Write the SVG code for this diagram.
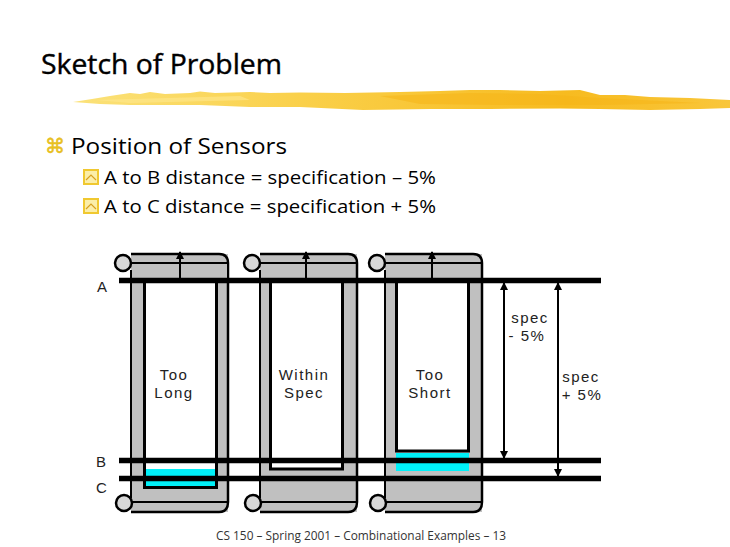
<svg xmlns="http://www.w3.org/2000/svg" width="730" height="547" viewBox="0 0 730 547">
<style>
text{font-family:"Open Sans","Liberation Sans",sans-serif;fill:#000}
.t{font-family:"Liberation Sans",Arial,sans-serif;font-size:15px;fill:#222;letter-spacing:1.5px}
.m{text-anchor:middle}
.bar{fill:#c0c0c0;stroke:none}
.thin{fill:none;stroke:#000;stroke-width:2}
.rl{fill:#d8d8d8;stroke:#000;stroke-width:2.5}
.rail{stroke:#000;stroke-width:5.5;fill:none}
.dim{stroke:#000;stroke-width:2;fill:none}
.cy{fill:#00f0f8}
.bx{fill:#fbeea8;stroke:#f0c830;stroke-width:2}
.ch{fill:none;stroke:#d8a020;stroke-width:1.2}
</style>
<defs>
<linearGradient id="brush" x1="0" x2="1" y1="0" y2="0">
<stop offset="0" stop-color="#fbe27a"/><stop offset=".35" stop-color="#fad04a"/><stop offset=".75" stop-color="#f7bb20"/><stop offset="1" stop-color="#f9c63a"/>
</linearGradient>
<marker id="ah" markerWidth="8" markerHeight="8" refX="7" refY="4" orient="auto-start-reverse" markerUnits="userSpaceOnUse" viewBox="0 0 8 8"><path d="M0 0L8 4L0 8Z" fill="#000"/></marker>
<g id="frame">
<path class="bar" d="M-49 -26H48V232H-49Z"/>
<path d="M-49 -26 H39 Q48 -26 48 -17 V222 Q48 232 39 232 H-49" fill="none" stroke="#000" stroke-width="2.500"/>
<path class="thin" d="M-49 -17H48M-49 222H48M-49 -10V218"/>
<circle class="rl" cx="-57" cy="-17" r="8"/>
<circle class="rl" cx="-56" cy="223" r="8"/>
</g>
</defs>
<rect width="730" height="547" fill="#fff"/>
<g id="stroke">
<path fill="url(#brush)" d="M73 102L92 99L110 96L130 93L140 94L150 92L165 94L190 93L200 91.500L215 93L250 92L270 93L300 92.500L345 93L400 92L440 91L470 90L500 90L540 91L580 90L600 95L625 95L650 97L690 98L730 100L730 108L700 109L650 110L600 109L560 108.500L490 109L430 109L363 110L300 107L250 107L200 105L130 105L100 104Z"/>
<path fill="#f5b418" opacity=".55" d="M380 96L470 93L540 94L600 98L700 103L600 105L500 105L420 104Z"/>
<path fill="#ffe88e" opacity=".6" d="M95 100L240 96L250 100L130 103Z"/>
</g>
<text x="41" y="74" font-size="27" textLength="241" lengthAdjust="spacingAndGlyphs" stroke="#000" stroke-width=".4">Sketch of Problem</text>
<text x="45" y="153" font-size="20" stroke="#e8c020" stroke-width=".5" style="font-family:'DejaVu Sans',sans-serif;fill:#e8c020">⌘</text>
<text x="71" y="154" font-size="22" textLength="216" lengthAdjust="spacingAndGlyphs">Position of Sensors</text>
<g id="b1"><rect class="bx" x="84" y="170" width="14" height="14"/><path class="ch" d="M86 180L91 175L96 180"/></g>
<text x="104" y="184" font-size="18.500" textLength="332" lengthAdjust="spacingAndGlyphs">A to B distance = specification – 5%</text>
<g id="b2"><rect class="bx" x="84" y="199" width="14" height="14"/><path class="ch" d="M86 209L91 204L96 209"/></g>
<text x="104" y="213" font-size="18.500" textLength="332" lengthAdjust="spacingAndGlyphs">A to C distance = specification + 5%</text>

<g id="sensor-long">
<use href="#frame" x="180" y="280"/>
<rect x="144.500" y="270" width="72" height="217.500" fill="#fff" stroke="#000" stroke-width="3"/>
<rect class="bar" x="132" y="264" width="95" height="14"/>
<rect class="cy" x="146" y="469" width="69" height="17"/>
<text class="t m" x="174" y="380">Too</text><text class="t m" x="174" y="398">Long</text>
</g>
<g id="sensor-within">
<use href="#frame" x="309" y="280"/>
<rect x="270.500" y="270" width="72" height="199" fill="#fff" stroke="#000" stroke-width="3"/>
<rect class="bar" x="261" y="264" width="93" height="14"/>
<text class="t m" x="304" y="380">Within</text><text class="t m" x="304" y="398">Spec</text>
</g>
<g id="sensor-short">
<use href="#frame" x="434" y="280"/>
<rect x="396.500" y="270" width="72" height="181" fill="#fff" stroke="#000" stroke-width="3"/>
<rect class="bar" x="386" y="264" width="93" height="14"/>
<rect class="cy" x="396" y="453" width="73" height="18"/>
<text class="t m" x="430" y="380">Too</text><text class="t m" x="430" y="398">Short</text>
</g>
<g id="connectors">
<path class="rail" d="M119 280.500H601M119 460.500H601M119 478.500H601"/>
<path class="dim" marker-end="url(#ah)" d="M180 279V252"/>
<path class="dim" marker-end="url(#ah)" d="M306 279V252"/>
<path class="dim" marker-end="url(#ah)" d="M432 279V252"/>
<path class="dim" marker-start="url(#ah)" marker-end="url(#ah)" d="M504 283V458"/>
<path class="dim" marker-start="url(#ah)" marker-end="url(#ah)" d="M558 283V476"/>
</g>
<g id="labels">
<text class="t" x="97" y="292">A</text><text class="t" x="96" y="467">B</text><text class="t" x="96" y="493">C</text>
<text class="t m" x="530" y="323">spec</text><text class="t m" x="527" y="340.500">- 5%</text>
<text class="t m" x="581" y="382">spec</text><text class="t m" x="582" y="399.500">+ 5%</text>
<text x="216" y="540" font-size="12" textLength="290" lengthAdjust="spacingAndGlyphs" style="fill:#333">CS 150 – Spring 2001 – Combinational Examples – 13</text>
</g>
</svg>
